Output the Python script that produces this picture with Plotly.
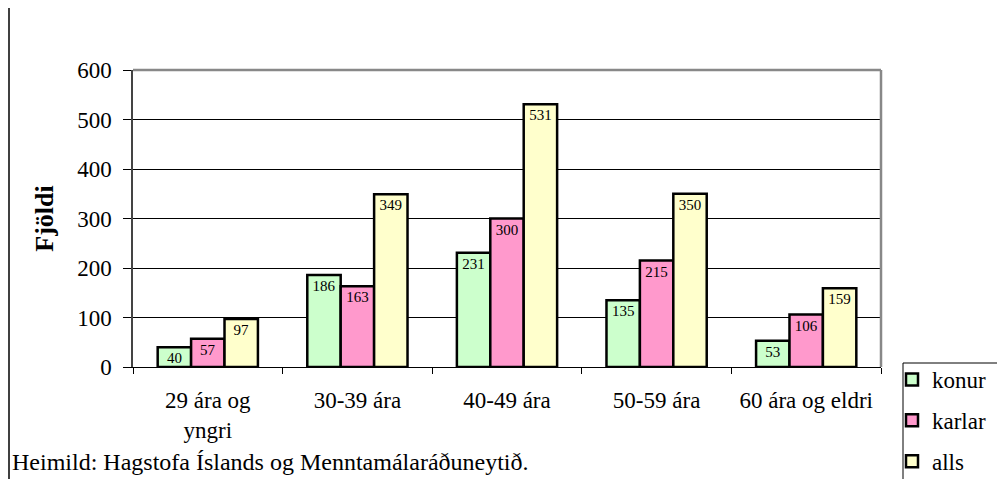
import plotly.graph_objects as go

categories = ["29 ára og<br>yngri", "30-39 ára", "40-49 ára", "50-59 ára", "60 ára og eldri"]
konur = [40, 186, 231, 135, 53]
karlar = [57, 163, 300, 215, 106]
alls = [97, 349, 531, 350, 159]
series_names = ["konur", "karlar", "alls"]
series_colors = ["#CCFFCC", "#FF99CC", "#FFFFCC"]
y_ticks = [0, 100, 200, 300, 400, 500, 600]

FONT = "Liberation Serif, Times New Roman, serif"

# page has an 8px body margin; these are figure coordinates
W, H = 1005, 479
L, R, T, B = 125, 132, 62, 120
pw = W - L - R
ph = H - T - B


def px(xf):
    return (xf - L) / pw


def py(yf):
    return (L * 0 + (T + ph) - yf) / ph


fig = go.Figure()
for name, vals, col in zip(series_names, [konur, karlar, alls], series_colors):
    fig.add_trace(go.Bar(
        x=categories, y=vals, name=name, legendgroup=name,
        marker=dict(color=col, line=dict(color="black", width=2.5)),
        text=[str(v) for v in vals], textposition="inside", insidetextanchor="end",
        textangle=0, constraintext="none",
        textfont=dict(family=FONT, size=15, color="black"),
    ))

fig.update_layout(
    width=W, height=H,
    margin=dict(l=L, r=R, t=T, b=B, autoexpand=False),
    paper_bgcolor="white", plot_bgcolor="white",
    barmode="group", bargap=0.33, bargroupgap=0,
    font=dict(family=FONT, size=23, color="black"),
    showlegend=True,
    legend=dict(
        x=px(884), xanchor="left",
        y=py(350), yanchor="top",
        borderwidth=0, bgcolor="rgba(0,0,0,0)",
        font=dict(family=FONT, size=23, color="black"),
        traceorder="grouped", tracegroupgap=8,
        itemwidth=30,
    ),
    xaxis=dict(
        showline=True, linecolor="black", linewidth=1,
        ticks="outside", tickson="boundaries", ticklen=6, tickcolor="black",
        tickfont=dict(family=FONT, size=23, color="black"),
        ticklabelstandoff=12, automargin=False,
        showgrid=False, zeroline=False, fixedrange=True,
    ),
    yaxis=dict(
        range=[0, 600], tickvals=y_ticks,
        showline=True, linecolor="#444444", linewidth=1.5,
        ticks="outside", ticklen=8, tickcolor="black",
        tickfont=dict(family=FONT, size=23, color="black"),
        ticklabelstandoff=7, automargin=False,
        showgrid=True, gridcolor="black", gridwidth=1,
        zeroline=False,
        title=dict(text="<b>Fjöldi</b>", font=dict(family=FONT, size=26, color="black"), standoff=16),
    ),
    shapes=[
        dict(type="line", xref="paper", yref="paper", x0=0, x1=1, y0=1, y1=1,
             line=dict(color="#888888", width=2.5)),
        dict(type="line", xref="paper", yref="paper", x0=1, x1=1, y0=0, y1=1,
             line=dict(color="#888888", width=2.5)),
        dict(type="line", xref="paper", yref="paper", x0=px(1), x1=px(1),
             y0=py(H + 20), y1=py(-20), line=dict(color="black", width=1.5)),
        # legend frame (extends past the page edge, as in the reference)
        dict(type="rect", xref="paper", yref="paper", x0=px(895), x1=px(1150),
             y0=py(355), y1=py(600), line=dict(color="black", width=1),
             fillcolor="rgba(0,0,0,0)"),
    ],
    annotations=[
        dict(text="Heimild: Hagstofa Íslands og Menntamálaráðuneytið.",
             xref="paper", yref="paper", x=px(2), y=py(454),
             xanchor="left", yanchor="middle", showarrow=False,
             font=dict(family=FONT, size=24, color="black")),
    ],
)

fig.write_html("out.html")
